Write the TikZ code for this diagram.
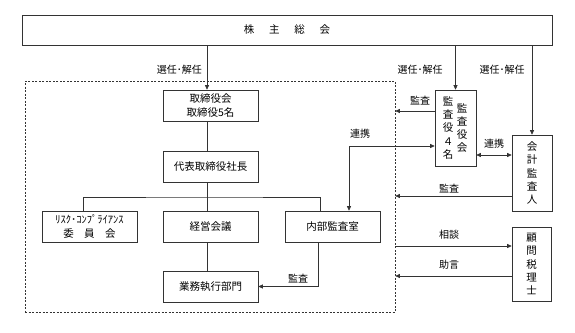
\documentclass[tikz,border=0pt]{standalone}
\usepackage{fontspec}
\setmainfont{Noto Sans CJK JP}
\usetikzlibrary{arrows.meta}

\begin{document}
\begin{tikzpicture}[x=1pt, y=-1pt,
    line/.style={draw=black!80, line width=0.6pt},
    arr/.style={line, -{Triangle[length=4.5pt, width=4pt]}},
    darr/.style={line, {Triangle[length=4.5pt, width=4pt]}-{Triangle[length=4.5pt, width=4pt]}},
    box/.style={line, fill=white, minimum width=95pt, minimum height=31pt, inner sep=1pt, align=center, font=\fontsize{10.5}{14}\selectfont},
    tate/.style={inner sep=0pt, align=center, font=\fontsize{10.5}{13.3}\selectfont},
    lbl/.style={inner sep=1pt, font=\fontsize{10}{12}\selectfont}]
  \useasboundingbox (0,0) rectangle (575,332);
  % 株主総会
  \node[box, minimum width=530pt, minimum height=30pt] (soukai) at (287,30) {株\hspace{1.4em}主\hspace{1.4em}総\hspace{1.4em}会};
  % 執行側の枠
  \node[line, dash pattern=on 2pt off 1.5pt, minimum width=370pt, minimum height=231pt] (shikkou) at (210,196.5) {};
  \node[box] (torishimari) at (210.5,105.5) {取締役会\\取締役5名};
  \node[box] (daihyo) at (210.5,166.5) {代表取締役社長};
  \node[box] (risk) at (89.5,226.5) {ﾘｽｸ･ｺﾝﾌﾟﾗｲｱﾝｽ\\委\hspace{1em}員\hspace{1em}会};
  \node[box] (keiei) at (210.5,226.5) {経営会議};
  \node[box] (naibu) at (332.5,226.5) {内部監査室};
  \node[box] (gyomu) at (210.5,286.5) {業務執行部門};
  % 監査役会・会計監査人・顧問税理士
  \node[box, minimum width=41pt, minimum height=76pt] (kansa) at (455.5,128) {};
  \node[tate] (kansa-nin) at (448,128) {監\\査\\役\\４\\名};
  \node[tate] (kansa-kai) at (462,128) {監\\査\\役\\会};
  \node[box, minimum width=40pt, minimum height=76pt, font=\fontsize{10.5}{13.3}\selectfont] (kaikei) at (532,173) {会\\計\\監\\査\\人};
  \node[box, minimum width=39pt, minimum height=74pt, font=\fontsize{10.5}{13.3}\selectfont] (komon) at (531.5,264) {顧\\問\\税\\理\\士};
  % 選任・解任
  \draw[arr] (soukai.south -| 207,0) -- (torishimari.north -| 207,0);
  \draw[arr] (soukai.south -| kansa.north) -- (kansa.north);
  \draw[arr] (soukai.south -| kaikei.north) -- (kaikei.north);
  \node[lbl, anchor=east] (sennin-a) at (203,70) {選任･解任};
  \node[lbl] (sennin-b) at (420,70) {選任･解任};
  \node[lbl] (sennin-c) at (502,70) {選任･解任};
  % 社内の系統
  \coordinate (bunki) at (207,197);
  \draw[line] (torishimari.south -| bunki) -- (daihyo.north -| bunki);
  \draw[line] (daihyo.south -| bunki) -- (keiei.north -| bunki);
  \draw[line] (risk.north -| 83,0) |- (bunki) -| (naibu.north -| 320,0);
  \draw[line] (keiei.south -| bunki) -- (gyomu.north -| bunki);
  \draw[arr] (naibu.south -| 318,0) |- (gyomu.east);
  \node[lbl] (kansa-d) at (298,279) {監査};
  % 連携・監査・相談・助言
  \draw[darr] (naibu.north -| 349,0) |- (kansa.west |- 0,146);
  \node[lbl] (renkei-a) at (360,134) {連携};
  \draw[arr] (kansa.west |- 0,111) -- (shikkou.east |- 0,111);
  \node[lbl] (kansa-a) at (420,101) {監査};
  \draw[darr] (kansa.east |- 0,155) -- (kaikei.west |- 0,155);
  \node[lbl] (renkei-b) at (494,144) {連携};
  \draw[arr] (kaikei.west |- 0,196) -- (shikkou.east |- 0,196);
  \node[lbl] (kansa-b) at (449,189) {監査};
  \draw[arr] (shikkou.east |- 0,246) -- (komon.west |- 0,246);
  \node[lbl] (soudan) at (449,235) {相談};
  \draw[arr] (komon.west |- 0,276) -- (shikkou.east |- 0,276);
  \node[lbl] (jogen) at (449,265) {助言};
\end{tikzpicture}
\end{document}
